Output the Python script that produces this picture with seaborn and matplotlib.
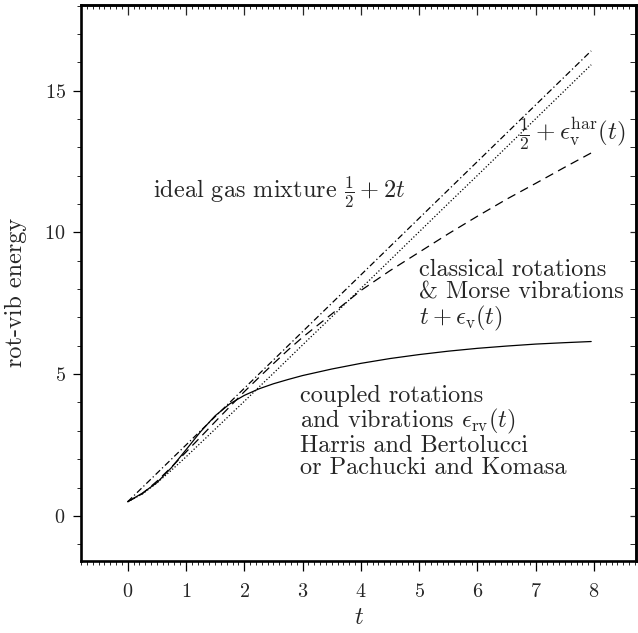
import numpy as np
import pandas as pd
import matplotlib
matplotlib.use("Agg")
import matplotlib.pyplot as plt
import seaborn as sns
from matplotlib.ticker import MultipleLocator, FixedLocator

# ---- data ----
t_vals = [0, 0.25, 0.5, 0.75, 1.0, 1.25, 1.5, 1.75, 2.0, 2.25, 2.5, 2.75,
          3.0, 3.5, 4.0, 4.5, 5.0, 5.5, 6.0, 6.5, 7.0, 7.5, 7.95]
ideal_gas = [0.5, 1.0, 1.5, 2.0, 2.5, 3.0, 3.5, 4.0, 4.5, 5.0, 5.5, 6.0,
             6.5, 7.5, 8.5, 9.5, 10.5, 11.5, 12.5, 13.5, 14.5, 15.5, 16.4]
harmonic = [0.5, 0.77, 1.16, 1.61, 2.08, 2.57, 3.06, 3.55, 4.04, 4.54, 5.03, 5.53,
            6.03, 7.02, 8.02, 9.02, 10.02, 11.02, 12.01, 13.01, 14.01, 15.01, 15.91]
morse = [0.5, 0.78, 1.22, 1.72, 2.25, 2.78, 3.32, 3.85, 4.38, 4.88, 5.37, 5.85,
         6.3, 7.12, 7.95, 8.65, 9.3, 9.95, 10.57, 11.17, 11.73, 12.3, 12.8]
coupled = [0.5, 0.8, 1.17, 1.7, 2.33, 2.97, 3.53, 3.95, 4.25, 4.48, 4.66, 4.81,
           4.95, 5.18, 5.38, 5.55, 5.69, 5.81, 5.91, 5.99, 6.06, 6.11, 6.15]

x_ticks = [0, 1, 2, 3, 4, 5, 6, 7, 8]
y_ticks = [0, 5, 10, 15]

df = pd.DataFrame({"t": t_vals, "ideal": ideal_gas, "har": harmonic,
                   "morse": morse, "rv": coupled})

sns.set_style("ticks")
plt.rcParams["font.family"] = ["cmr10", "DejaVu Serif"]
plt.rcParams["mathtext.fontset"] = "cm"
plt.rcParams["axes.formatter.use_mathtext"] = True
plt.rcParams["axes.unicode_minus"] = False

fig = plt.figure(figsize=(6.38, 6.33), dpi=100)
ax = fig.add_axes([0.127, 0.1142, 0.870, 0.878])

lw = 0.9
sns.lineplot(data=df, x="t", y="ideal", ax=ax, color="black", lw=lw,
             linestyle=(0, (5, 2.2, 1, 2.2)))
sns.lineplot(data=df, x="t", y="har", ax=ax, color="black", lw=lw,
             linestyle=(0, (1, 1.6)))
sns.lineplot(data=df, x="t", y="morse", ax=ax, color="black", lw=lw,
             linestyle=(0, (7, 4.5)))
sns.lineplot(data=df, x="t", y="rv", ax=ax, color="black", lw=lw,
             linestyle="-")

ax.set_xlim(-0.8, 8.72)
ax.set_ylim(-1.58, 18.02)

fs_tick = 14.5
fs = 17.5
ax.set_xticks(x_ticks)
ax.set_yticks(y_ticks)
ax.xaxis.set_minor_locator(MultipleLocator(0.1))
ax.yaxis.set_minor_locator(MultipleLocator(1))
ax.tick_params(axis="both", which="major", direction="out", labelsize=fs_tick,
               width=0.9, color="black", top=False, right=False)
ax.tick_params(axis="x", which="major", length=7, pad=9)
ax.tick_params(axis="x", which="minor", length=3, width=0.7, direction="out",
               top=False)
ax.tick_params(axis="y", which="major", length=6, pad=5)
ax.tick_params(axis="y", which="minor", length=3, width=0.7, direction="out",
               right=False)

for s in ax.spines.values():
    s.set_visible(True)
    s.set_linewidth(1.9)
    s.set_color("black")

secx = ax.secondary_xaxis("top")
secx.xaxis.set_major_locator(FixedLocator(x_ticks))
secx.xaxis.set_minor_locator(MultipleLocator(0.1))
secx.tick_params(which="major", direction="in", length=7, width=0.9,
                 labeltop=False)
secx.tick_params(which="minor", direction="in", length=3, width=0.7)
secx.spines["top"].set_linewidth(1.9)

secy = ax.secondary_yaxis("right")
secy.yaxis.set_major_locator(FixedLocator(y_ticks))
secy.yaxis.set_minor_locator(MultipleLocator(1))
secy.tick_params(which="major", direction="in", length=4, width=0.9,
                 labelright=False)
secy.tick_params(which="minor", direction="in", length=4, width=0.7)
secy.spines["right"].set_linewidth(1.9)

ax.set_xlabel("$t$", fontsize=fs)
ax.set_ylabel("rot-vib energy", fontsize=fs)
ax.xaxis.labelpad = 4
ax.yaxis.set_label_coords(-0.098, 0.483)

ax.text(0.43, 11.22, r"ideal gas mixture $\frac{1}{2}+2t$", fontsize=fs,
        va="baseline", ha="left")
ax.text(6.72, 13.26, r"$\frac{1}{2}+\epsilon_{\mathrm{v}}^{\mathrm{har}}(t)$",
        fontsize=fs + 0.5, va="baseline", ha="left")
ax.text(5.0, 9.05, "classical rotations\n& Morse vibrations\n$t+\\epsilon_{\\mathrm{v}}(t)$",
        fontsize=fs, va="top", ha="left", linespacing=1.0)
ax.text(2.95, 4.62,
        "coupled rotations\nand vibrations $\\epsilon_{\\mathrm{rv}}(t)$\nHarris and Bertolucci\nor Pachucki and Komasa",
        fontsize=fs, va="top", ha="left", linespacing=0.97)

fig.savefig("out.png", dpi=100)
